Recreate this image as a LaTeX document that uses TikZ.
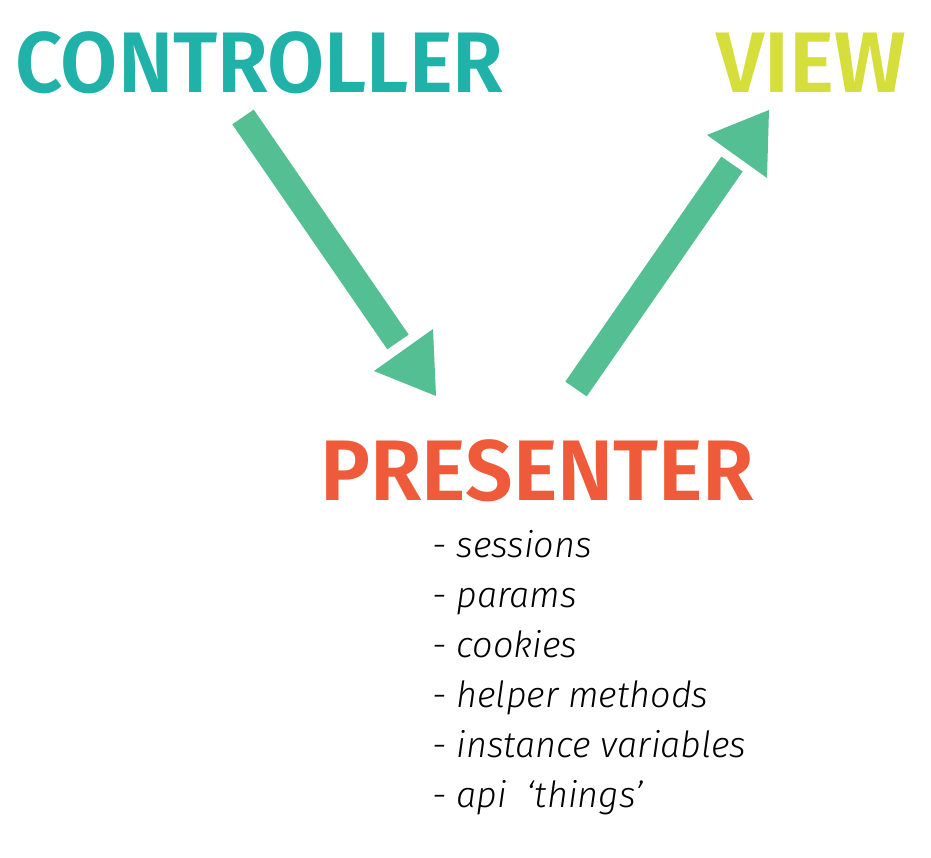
\documentclass[tikz,border=0pt]{standalone}
\usepackage{fontspec}
\setmainfont{Fira Sans}
\newfontfamily\headfont{Fira Sans}[UprightFont=* SemiBold]
\newfontfamily\listfont{Fira Sans}[UprightFont=* Light, ItalicFont=* Light Italic]
\definecolor{ctrl}{HTML}{20B2A9}
\definecolor{viewc}{HTML}{D5DE3B}
\definecolor{pres}{HTML}{EF5B3A}
\definecolor{arr}{HTML}{55BF94}
\begin{document}
\begin{tikzpicture}[x=1pt,y=-1pt,
  head/.style={font=\headfont\fontsize{86}{86}\selectfont, inner sep=0pt, anchor=base west},
  item/.style={font=\listfont\itshape\fontsize{36}{36}\selectfont, inner sep=0pt, anchor=base west},
  shaft/.style={draw=arr, line width=26pt},
  ahead/.style={fill=arr, draw=none}]
\useasboundingbox (0,0) rectangle (931,858);
\node[head, text=ctrl, xscale=0.963] (controller) at (15,93) {CONTROLLER};
\node[head, text=viewc, xscale=0.99] (view) at (716,93) {VIEW};
\node[head, text=pres, xscale=0.978] (presenter) at (320,500) {PRESENTER};
\foreach \t [count=\i from 0] in {sessions,params,cookies,helper methods,instance variables,api\ \ ‘things’}
  \node[item] (item\i) at (432,557+50*\i) {- \t};
% arrow controller -> presenter
\coordinate (a1s) at (243,117);
\coordinate (a1e) at (398,342);
\draw[shaft] (a1s) -- (a1e);
\fill[ahead] (374,371) -- (433,329) -- (436,396) -- cycle;
% arrow presenter -> view
\coordinate (a2s) at (576,389);
\coordinate (a2e) at (732,164);
\draw[shaft] (a2s) -- (a2e);
\fill[ahead] (707,135) -- (769,110) -- (767,178) -- cycle;
\end{tikzpicture}
\end{document}
